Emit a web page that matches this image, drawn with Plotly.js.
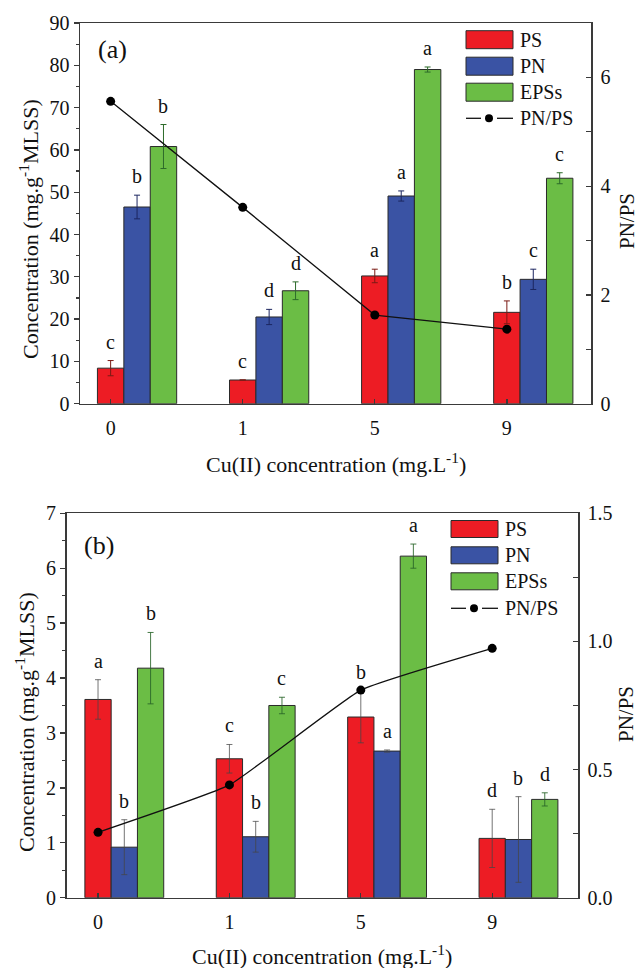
<!DOCTYPE html>
<html>
<head>
<meta charset="utf-8">
<script src="https://cdn.plot.ly/plotly-3.0.1.min.js"></script>
<style>html,body{margin:0;padding:0;background:#fff;}#chart{width:639px;height:968px;}</style>
</head>
<body>
<div id="chart"></div>
<script>
// ---------- data ----------
const categories = ['0', '1', '5', '9'];

// panel (a)
const psA = [8.4, 5.6, 30.2, 21.6];
const psAErr = [1.8, 0, 1.6, 2.7];
const pnA = [46.5, 20.5, 49.1, 29.4];
const pnAErr = [2.8, 1.8, 1.2, 2.4];
const epsA = [60.8, 26.7, 79.0, 53.3];
const epsAErr = [5.2, 2.1, 0.6, 1.3];
const ratioA = [5.56, 3.61, 1.63, 1.37];
const psALetters = ['c', 'c', 'a', 'b'];
const pnALetters = ['b', 'd', 'a', 'c'];
const epsALetters = ['b', 'd', 'a', 'c'];

// panel (b)
const psB = [3.61, 2.53, 3.29, 1.08];
const psBErr = [0.36, 0.26, 0.47, 0.53];
const pnB = [0.92, 1.11, 2.67, 1.06];
const pnBErr = [0.50, 0.28, 0.02, 0.78];
const epsB = [4.18, 3.50, 6.22, 1.79];
const epsBErr = [0.65, 0.15, 0.22, 0.12];
const ratioB = [0.255, 0.44, 0.81, 0.973];
const psBLetters = ['a', 'c', 'b', 'd'];
const pnBLetters = ['b', 'b', 'a', 'b'];
const epsBLetters = ['b', 'c', 'a', 'd'];

const seriesNames = ['PS', 'PN', 'EPSs', 'PN/PS'];

// ---------- styling ----------
const W = 639, H = 968;
const FONT = '"Liberation Serif", "Times New Roman", Times, serif';
const RED = '#ED1C24', BLUE = '#3A53A4', GREEN = '#6BBD45';
const AX = '#3a3a3a';
const BW = 0.2;
const offsets = [-0.1, 0.1, 0.3];
const px = v => v / W;
const py = v => 1 - v / H;

function bar(x, y, err, color, errColor, offset, xa, ya, name) {
  return {
    type: 'bar', x: x, y: y, name: name, xaxis: xa, yaxis: ya,
    width: BW, offset: offset,
    marker: {color: color, line: {color: '#2a2a2a', width: 1}},
    error_y: {type: 'data', array: err, visible: true, color: errColor, thickness: 1, width: 3},
    showlegend: false, hoverinfo: 'skip'
  };
}

const traces = [
  bar(categories, psA, psAErr, RED, '#7a1a14', offsets[0], 'x', 'y', seriesNames[0]),
  bar(categories, pnA, pnAErr, BLUE, '#1c2660', offsets[1], 'x', 'y', seriesNames[1]),
  bar(categories, epsA, epsAErr, GREEN, '#2d6a2a', offsets[2], 'x', 'y', seriesNames[2]),
  {type: 'scatter', mode: 'lines+markers', x: categories, y: ratioA, xaxis: 'x', yaxis: 'y2',
   name: seriesNames[3], line: {color: '#111', width: 1.3}, marker: {color: '#000', size: 9},
   showlegend: false, hoverinfo: 'skip'},
  bar(categories, psB, psBErr, RED, 'rgba(70,70,70,0.75)', offsets[0], 'x2', 'y3', seriesNames[0]),
  bar(categories, pnB, pnBErr, BLUE, 'rgba(70,70,70,0.75)', offsets[1], 'x2', 'y3', seriesNames[1]),
  bar(categories, epsB, epsBErr, GREEN, 'rgba(40,100,40,0.85)', offsets[2], 'x2', 'y3', seriesNames[2]),
  {type: 'scatter', mode: 'lines+markers', x: categories, y: ratioB, xaxis: 'x2', yaxis: 'y4',
   name: seriesNames[3], line: {color: '#111', width: 1.3, shape: 'spline', smoothing: 0.35},
   marker: {color: '#000', size: 9}, showlegend: false, hoverinfo: 'skip'}
];

// ---------- annotations ----------
const annotations = [];
function letters(vals, errs, labs, off, xref, yref) {
  vals.forEach((v, i) => {
    annotations.push({xref: xref, yref: yref, x: i + off + BW / 2, y: v + errs[i],
      text: labs[i], showarrow: false, xanchor: 'center', yanchor: 'bottom', yshift: 6,
      font: {family: FONT, size: 20, color: '#111'}});
  });
}
letters(psA, psAErr, psALetters, offsets[0], 'x', 'y');
letters(pnA, pnAErr, pnALetters, offsets[1], 'x', 'y');
letters(epsA, epsAErr, epsALetters, offsets[2], 'x', 'y');
letters(psB, psBErr, psBLetters, offsets[0], 'x2', 'y3');
letters(pnB, pnBErr, pnBLetters, offsets[1], 'x2', 'y3');
letters(epsB, epsBErr, epsBLetters, offsets[2], 'x2', 'y3');

function txt(x, y, text, size, angle, xanchor) {
  annotations.push({xref: 'paper', yref: 'paper', x: px(x), y: py(y), text: text,
    showarrow: false, textangle: angle || 0, xanchor: xanchor || 'center', yanchor: 'middle',
    font: {family: FONT, size: size, color: '#111'}});
}
// panel labels
txt(112, 50, '(a)', 26);
txt(99, 545, '(b)', 26);
// axis titles
const yTitle = 'Concentration (mg.g<sup>-1</sup>MLSS)';
const xTitle = 'Cu(II) concentration (mg.L<sup>-1</sup>)';
txt(29, 229, yTitle, 22, -90);
txt(336, 463, xTitle, 22);
txt(627, 221, 'PN/PS', 21, -90);
txt(25, 722, yTitle, 22, -90);
txt(322, 955, xTitle, 22);
txt(626, 714, 'PN/PS', 21, -90);

// ---------- custom legends ----------
const shapes = [];
function legend(x0, x1, rows, h, lineY, dotX, gap, textX) {
  const cols = [RED, BLUE, GREEN];
  rows.forEach((cy, i) => {
    shapes.push({type: 'rect', xref: 'paper', yref: 'paper', x0: px(x0), x1: px(x1),
      y0: py(cy + h / 2), y1: py(cy - h / 2), fillcolor: cols[i], line: {color: '#2a2a2a', width: 1}});
    txt(textX, cy, seriesNames[i], 20, 0, 'left');
  });
  shapes.push({type: 'line', xref: 'paper', yref: 'paper', x0: px(x0), x1: px(dotX - gap),
    y0: py(lineY), y1: py(lineY), line: {color: '#111', width: 1.3}});
  shapes.push({type: 'line', xref: 'paper', yref: 'paper', x0: px(dotX + gap), x1: px(x1),
    y0: py(lineY), y1: py(lineY), line: {color: '#111', width: 1.3}});
  shapes.push({type: 'circle', xref: 'paper', yref: 'paper', x0: px(dotX - 4), x1: px(dotX + 4),
    y0: py(lineY + 4), y1: py(lineY - 4), fillcolor: '#000', line: {color: '#000', width: 0}});
  txt(textX, lineY, seriesNames[3], 20, 0, 'left');
}
legend(466, 513, [39.7, 66.2, 92.2], 18, 118.3, 489, 8, 518);
legend(451, 498, [529, 555.3, 581.3], 17, 608.3, 474, 8, 503);

// ---------- axes ----------
const tickfont = {family: FONT, size: 20, color: '#111'};
function xAxis(domain, anchor, range) {
  return {domain: domain, anchor: anchor, type: 'category', range: range,
    showline: true, linecolor: AX, linewidth: 1.5, mirror: true,
    ticks: 'inside', ticklen: 5, tickcolor: AX, tickwidth: 1.3, ticklabelstandoff: 6,
    showgrid: false, zeroline: false, tickfont: tickfont, fixedrange: true};
}
function yLeft(domain, anchor, range, dtick, minor) {
  return {domain: domain, anchor: anchor, range: range, dtick: dtick, tick0: 0,
    showline: true, linecolor: AX, linewidth: 1.5, mirror: true,
    ticks: 'outside', ticklen: 5, tickcolor: AX, tickwidth: 1.3,
    minor: {dtick: minor, tick0: 0, ticks: 'outside', ticklen: 3, tickcolor: AX, tickwidth: 1.2},
    showgrid: false, zeroline: false, tickfont: tickfont, fixedrange: true};
}
function yRight(overlay, anchor, range, dtick, minor, fmt) {
  return {overlaying: overlay, anchor: anchor, side: 'right', range: range, dtick: dtick, tick0: 0,
    showline: true, linecolor: AX, linewidth: 1.5,
    ticks: 'inside', ticklen: 5, tickcolor: AX, tickwidth: 1.3, ticklabelstandoff: 4,
    minor: {dtick: minor, tick0: 0, ticks: 'inside', ticklen: 5, tickcolor: AX, tickwidth: 1.2},
    tickformat: fmt, showgrid: false, zeroline: false, tickfont: tickfont, fixedrange: true};
}

const layout = {
  width: W, height: H,
  margin: {l: 0, r: 0, t: 0, b: 0},
  paper_bgcolor: '#fff', plot_bgcolor: 'rgba(0,0,0,0)',
  barmode: 'overlay', showlegend: false,
  font: {family: FONT, color: '#111'},
  xaxis: xAxis([px(80), px(591)], 'y', [-0.232, 3.637]),
  yaxis: yLeft([py(403.7), py(23)], 'x', [0, 90], 10, 5),
  yaxis2: yRight('y', 'x', [0, 7], 2, 1, 'd'),
  xaxis2: xAxis([px(66.5), px(578)], 'y3', [-0.24, 3.653]),
  yaxis3: yLeft([py(897.7), py(513.3)], 'x2', [0, 7], 1, 0.5),
  yaxis4: yRight('y3', 'x2', [0, 1.5], 0.5, 0.25, '.1f'),
  annotations: annotations,
  shapes: shapes
};

Plotly.newPlot('chart', traces, layout, {staticPlot: true, displayModeBar: false});
</script>
</body>
</html>
